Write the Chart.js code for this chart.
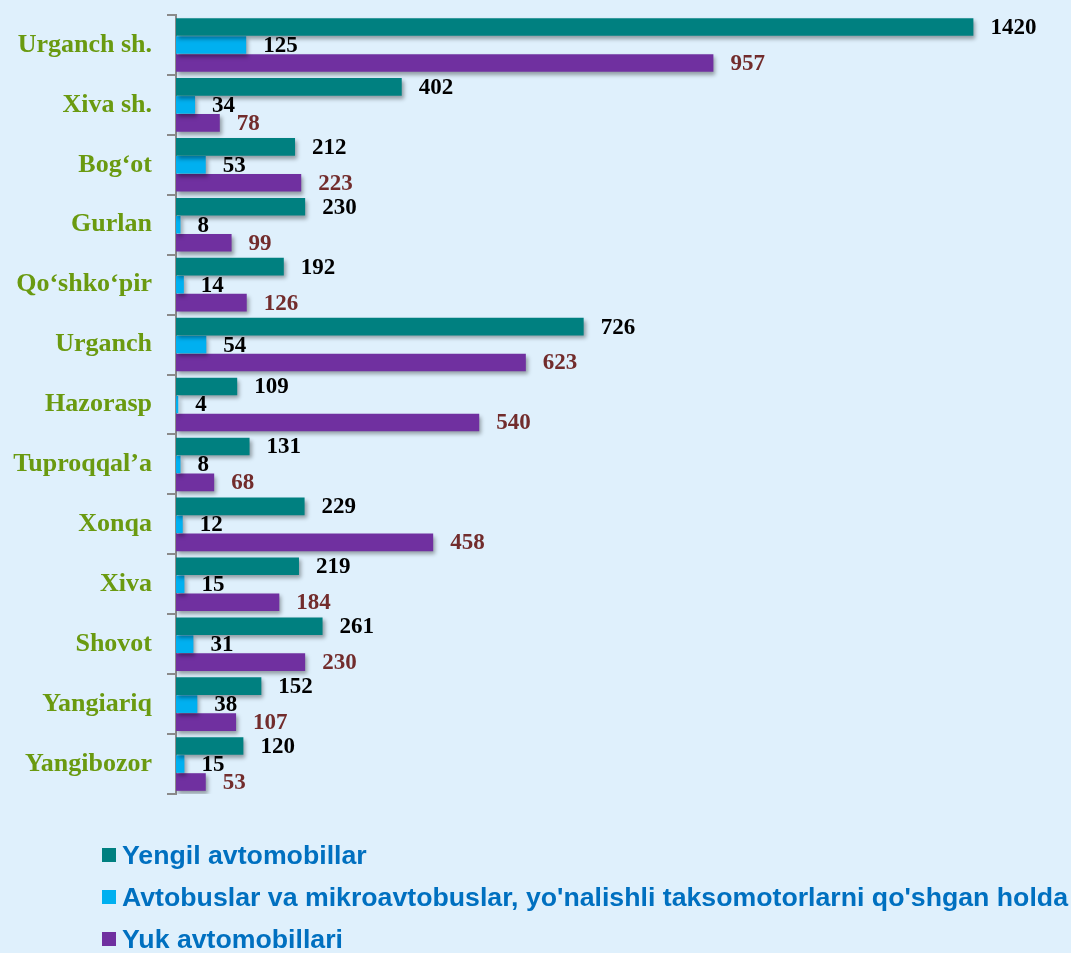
<!DOCTYPE html>
<html lang="uz">
<head>
  <meta charset="UTF-8">
  <title>Avtomobillar soni tumanlar bo'yicha</title>
  <script src="https://cdn.jsdelivr.net/npm/chart.js"></script>
  <style>
    html, body { margin: 0; padding: 0; background: #dff0fc; overflow: hidden; }
    #wrap { position: relative; width: 1071px; height: 953px; }
    #legend { position: absolute; left: 102px; top: 834px; margin: 0; padding: 0; list-style: none;
      font: bold 26.7px "Liberation Sans", Arial, sans-serif; color: #0070c0; }
    #legend li { height: 42px; line-height: 42px; white-space: nowrap; display: flex; align-items: center; }
    #legend span { display: inline-block; width: 14px; height: 14px; margin-right: 6px; }
  </style>
</head>
<body>
  <div id="wrap">
    <canvas id="chart"></canvas>
    <ul id="legend"></ul>
  </div>

  <script>
    // Districts (top to bottom)
    const districts = ["Urganch sh.", "Xiva sh.", "Bog\u2018ot", "Gurlan", "Qo\u2018shko\u2018pir", "Urganch",
      "Hazorasp", "Tuproqqal\u2019a", "Xonqa", "Xiva", "Shovot", "Yangiariq", "Yangibozor"];

    // Vehicle counts per district
    const yengil = [1420, 402, 212, 230, 192, 726, 109, 131, 229, 219, 261, 152, 120];
    const avtobus = [125, 34, 53, 8, 14, 54, 4, 8, 12, 15, 31, 38, 15];
    const yuk = [957, 78, 223, 99, 126, 623, 540, 68, 458, 184, 230, 107, 53];

    const seriesNames = [
      "Yengil avtomobillar",
      "Avtobuslar va mikroavtobuslar, yo'nalishli taksomotorlarni qo'shgan holda",
      "Yuk avtomobillari"
    ];
    const seriesColors = ["#008080", "#00b0f0", "#7030a0"];
    const labelColors = ["#000000", "#000000", "#722c2c"];

    // soft drop shadow under the bars
    const barShadow = {
      id: "barShadow",
      beforeDatasetsDraw(chart) {
        const ctx = chart.ctx;
        ctx.save();
        ctx.shadowColor = "rgba(0,0,0,0.35)";
        ctx.shadowBlur = 4;
        ctx.shadowOffsetX = 2;
        ctx.shadowOffsetY = 3;
      },
      afterDatasetsDraw(chart) {
        chart.ctx.restore();
      }
    };

    // value printed to the right of each bar
    const valueLabels = {
      id: "valueLabels",
      afterDatasetsDraw(chart) {
        const ctx = chart.ctx;
        ctx.save();
        ctx.font = 'bold 23px "Liberation Serif", "Times New Roman", serif';
        ctx.textAlign = "left";
        ctx.textBaseline = "middle";
        chart.data.datasets.forEach((ds, i) => {
          const meta = chart.getDatasetMeta(i);
          ctx.fillStyle = labelColors[i];
          meta.data.forEach((bar, j) => {
            ctx.fillText(String(ds.data[j]), bar.x + 17, bar.y + 1);
          });
        });
        ctx.restore();
      }
    };

    const datasets = [yengil, avtobus, yuk].map((vals, i) => ({
      label: seriesNames[i],
      data: vals,
      backgroundColor: seriesColors[i],
      categoryPercentage: 0.9,
      barPercentage: 0.98
    }));

    const chart = new Chart(document.getElementById("chart"), {
      type: "bar",
      data: { labels: districts, datasets: datasets },
      options: {
        indexAxis: "y",
        responsive: true,
        maintainAspectRatio: false,
        animation: false,
        layout: { padding: { top: 15, bottom: 159, right: 19, left: 0 } },
        plugins: { legend: { display: false }, tooltip: { enabled: false } },
        scales: {
          x: { display: false, min: 0, max: 1560 },
          y: {
            afterFit(scale) {
              scale.width = 176;
              scale.paddingTop = 0;
              scale.paddingBottom = 0;
            },
            border: { color: "#8a8a8a", width: 2 },
            grid: { drawOnChartArea: false, drawTicks: true, tickLength: 9, color: "#8a8a8a", lineWidth: 2 },
            ticks: {
              padding: 15,
              color: "#6a9a10",
              font: { family: '"Liberation Serif", "Times New Roman", serif', size: 26, weight: "bold" }
            }
          }
        }
      },
      plugins: [barShadow, valueLabels]
    });

    // legend list, one series per line
    const legend = document.getElementById("legend");
    chart.data.datasets.forEach(ds => {
      const li = document.createElement("li");
      const box = document.createElement("span");
      box.style.background = ds.backgroundColor;
      li.appendChild(box);
      li.appendChild(document.createTextNode(ds.label));
      legend.appendChild(li);
    });
  </script>
</body>
</html>
